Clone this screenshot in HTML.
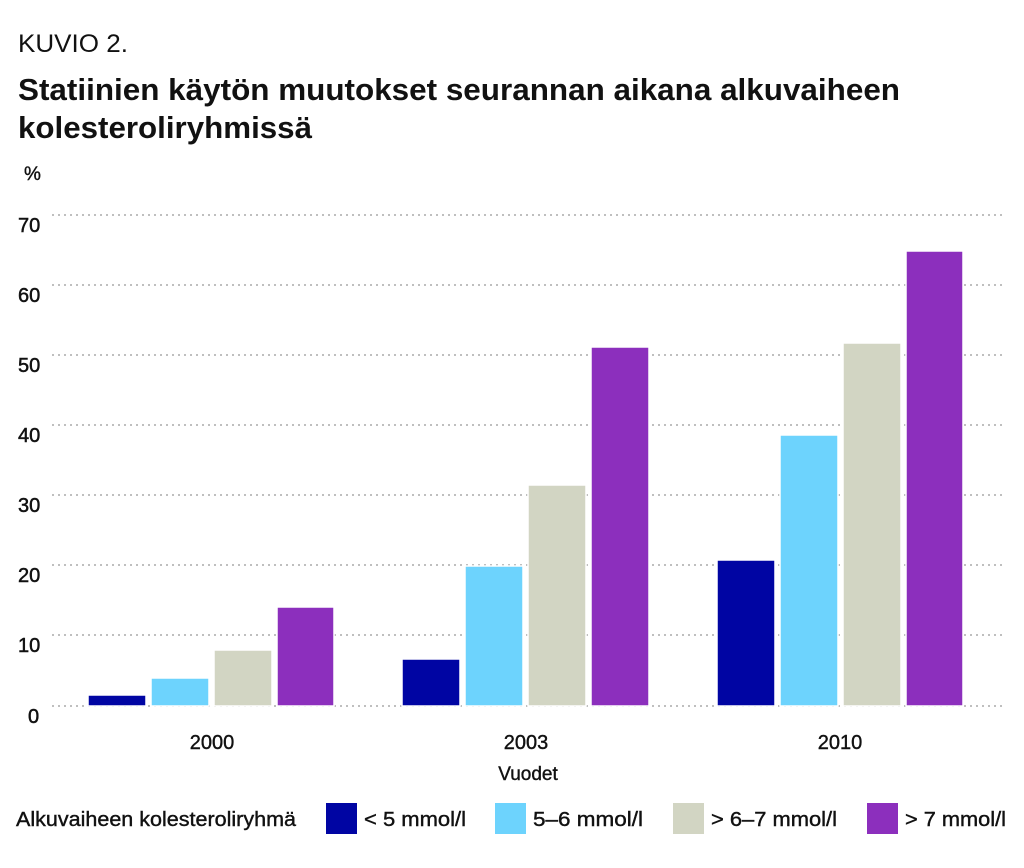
<!DOCTYPE html>
<html><head><meta charset="utf-8"><style>
html,body{margin:0;padding:0;background:#fff;}
svg{display:block;font-family:"Liberation Sans",sans-serif;}
</style></head><body>
<svg width="1024" height="868" viewBox="0 0 1024 868">
<text x="18" y="52" font-size="25" fill="#111" textLength="110" lengthAdjust="spacingAndGlyphs">KUVIO 2.</text>
<text x="18" y="100" font-size="31" font-weight="bold" fill="#111" textLength="882" lengthAdjust="spacingAndGlyphs">Statiinien käytön muutokset seurannan aikana alkuvaiheen</text>
<text x="18" y="138" font-size="31" font-weight="bold" fill="#111" textLength="294" lengthAdjust="spacingAndGlyphs">kolesteroliryhmissä</text>
<text x="24" y="180" font-size="19" fill="#111" stroke="#111" stroke-width="0.4">%</text>
<g stroke="#aaa" stroke-width="1.5" stroke-dasharray="2,4">
<line x1="52" x2="1005" y1="215" y2="215"/><line x1="52" x2="1005" y1="285" y2="285"/>
<line x1="52" x2="1005" y1="355" y2="355"/><line x1="52" x2="1005" y1="425" y2="425"/>
<line x1="52" x2="1005" y1="495" y2="495"/><line x1="52" x2="1005" y1="565" y2="565"/>
<line x1="52" x2="1005" y1="635" y2="635"/><line x1="52" x2="1005" y1="706" y2="706"/>
</g>
<g font-size="20" fill="#111" stroke="#111" stroke-width="0.5">
<text x="18" y="232">70</text><text x="18" y="302">60</text><text x="18" y="372">50</text>
<text x="18" y="442">40</text><text x="18" y="512">30</text><text x="18" y="582">20</text>
<text x="18" y="652">10</text><text x="28" y="723">0</text>
</g>
<g stroke="#fff" stroke-width="1.5">
<rect x="88" y="695" width="58" height="11" fill="#0005a3"/>
<rect x="151" y="678" width="58" height="28" fill="#6dd3fd"/>
<rect x="214" y="650" width="58" height="56" fill="#d2d5c3"/>
<rect x="277" y="607" width="57" height="99" fill="#8c2fbd"/>
<rect x="402" y="659" width="58" height="47" fill="#0005a3"/>
<rect x="465" y="566" width="58" height="140" fill="#6dd3fd"/>
<rect x="528" y="485" width="58" height="221" fill="#d2d5c3"/>
<rect x="591" y="347" width="58" height="359" fill="#8c2fbd"/>
<rect x="717" y="560" width="58" height="146" fill="#0005a3"/>
<rect x="780" y="435" width="58" height="271" fill="#6dd3fd"/>
<rect x="843" y="343" width="58" height="363" fill="#d2d5c3"/>
<rect x="906" y="251" width="57" height="455" fill="#8c2fbd"/>
</g>
<g font-size="20" fill="#111" text-anchor="middle" stroke="#111" stroke-width="0.4">
<text x="212" y="749">2000</text><text x="526" y="749">2003</text><text x="840" y="749">2010</text>
<text x="528" y="780" font-size="19">Vuodet</text>
</g>
<g font-size="20" fill="#111" stroke="#111" stroke-width="0.4">
<text x="16" y="826" textLength="280" lengthAdjust="spacingAndGlyphs">Alkuvaiheen kolesteroliryhmä</text>
<rect x="326" y="803" width="31" height="31" fill="#0005a3" stroke="none"/>
<text x="364" y="826" textLength="102" lengthAdjust="spacingAndGlyphs">&lt; 5 mmol/l</text>
<rect x="495" y="803" width="31" height="31" fill="#6dd3fd" stroke="none"/>
<text x="533" y="826" textLength="110" lengthAdjust="spacingAndGlyphs">5–6 mmol/l</text>
<rect x="673" y="803" width="31" height="31" fill="#d2d5c3" stroke="none"/>
<text x="711" y="826" textLength="126" lengthAdjust="spacingAndGlyphs">&gt; 6–7 mmol/l</text>
<rect x="867" y="803" width="31" height="31" fill="#8c2fbd" stroke="none"/>
<text x="905" y="826" textLength="101" lengthAdjust="spacingAndGlyphs">&gt; 7 mmol/l</text>
</g>
</svg>
</body></html>
